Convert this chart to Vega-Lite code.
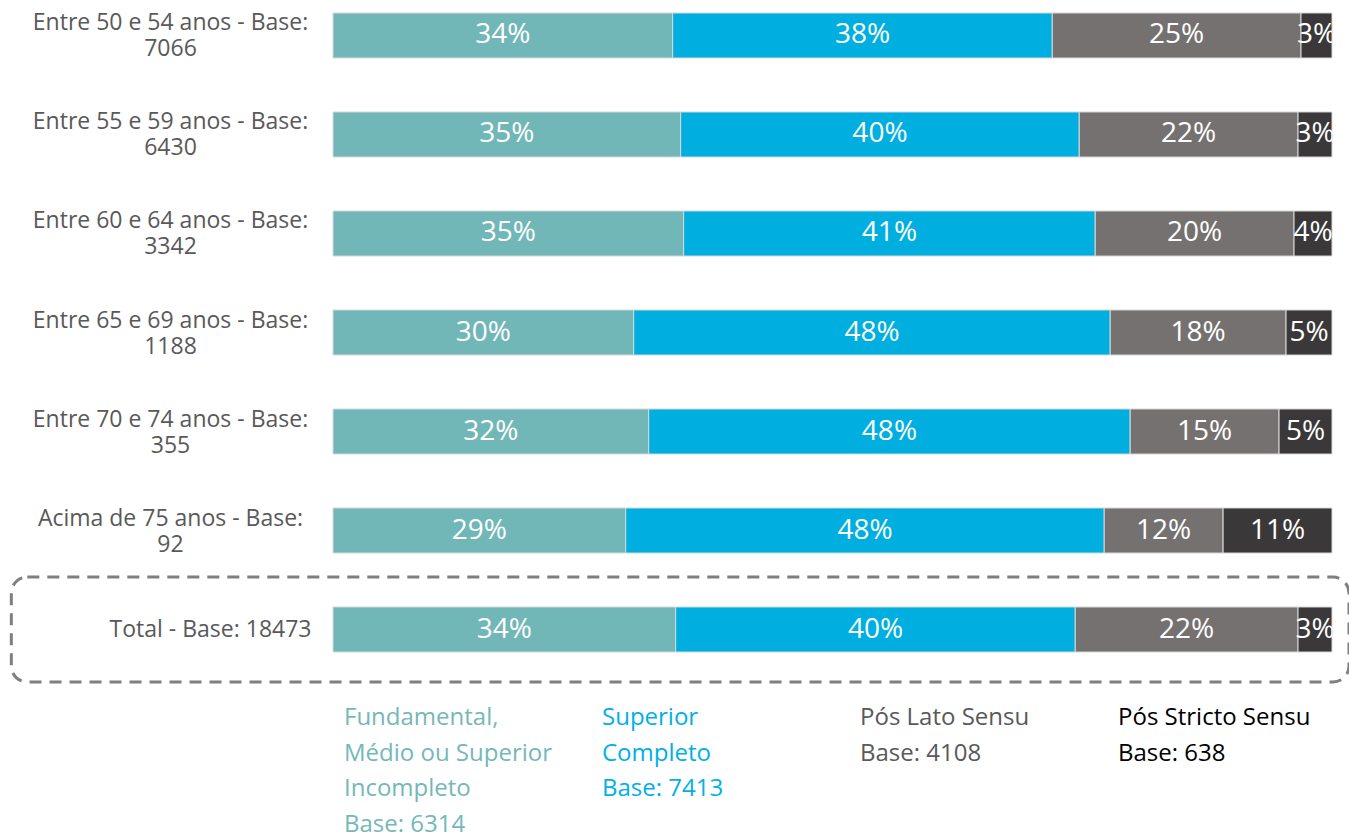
{
  "$schema": "https://vega.github.io/schema/vega-lite/v6.json",
  "autosize": "none",
  "width": 999,
  "height": 665,
  "padding": {"left": 333, "top": 0, "right": 17, "bottom": 168},
  "background": "white",
  "config": {
    "view": {"stroke": null},
    "style": {"guide-label": {"lineHeight": 35.5}}
  },
  "data": {"values": [
    {"grupo": "Entre 50 e 54 anos - Base:\n7066", "cat": "Fundamental, Médio ou Superior Incompleto", "ord": 1, "v": 34.0, "rotulo": "34%"},
    {"grupo": "Entre 50 e 54 anos - Base:\n7066", "cat": "Superior Completo", "ord": 2, "v": 38.0, "rotulo": "38%"},
    {"grupo": "Entre 50 e 54 anos - Base:\n7066", "cat": "Pós Lato Sensu", "ord": 3, "v": 24.9, "rotulo": "25%"},
    {"grupo": "Entre 50 e 54 anos - Base:\n7066", "cat": "Pós Stricto Sensu", "ord": 4, "v": 3.1, "rotulo": "3%"},
    {"grupo": "Entre 55 e 59 anos - Base:\n6430", "cat": "Fundamental, Médio ou Superior Incompleto", "ord": 1, "v": 34.8, "rotulo": "35%"},
    {"grupo": "Entre 55 e 59 anos - Base:\n6430", "cat": "Superior Completo", "ord": 2, "v": 39.9, "rotulo": "40%"},
    {"grupo": "Entre 55 e 59 anos - Base:\n6430", "cat": "Pós Lato Sensu", "ord": 3, "v": 21.9, "rotulo": "22%"},
    {"grupo": "Entre 55 e 59 anos - Base:\n6430", "cat": "Pós Stricto Sensu", "ord": 4, "v": 3.4, "rotulo": "3%"},
    {"grupo": "Entre 60 e 64 anos - Base:\n3342", "cat": "Fundamental, Médio ou Superior Incompleto", "ord": 1, "v": 35.1, "rotulo": "35%"},
    {"grupo": "Entre 60 e 64 anos - Base:\n3342", "cat": "Superior Completo", "ord": 2, "v": 41.2, "rotulo": "41%"},
    {"grupo": "Entre 60 e 64 anos - Base:\n3342", "cat": "Pós Lato Sensu", "ord": 3, "v": 19.9, "rotulo": "20%"},
    {"grupo": "Entre 60 e 64 anos - Base:\n3342", "cat": "Pós Stricto Sensu", "ord": 4, "v": 3.8, "rotulo": "4%"},
    {"grupo": "Entre 65 e 69 anos - Base:\n1188", "cat": "Fundamental, Médio ou Superior Incompleto", "ord": 1, "v": 30.1, "rotulo": "30%"},
    {"grupo": "Entre 65 e 69 anos - Base:\n1188", "cat": "Superior Completo", "ord": 2, "v": 47.7, "rotulo": "48%"},
    {"grupo": "Entre 65 e 69 anos - Base:\n1188", "cat": "Pós Lato Sensu", "ord": 3, "v": 17.6, "rotulo": "18%"},
    {"grupo": "Entre 65 e 69 anos - Base:\n1188", "cat": "Pós Stricto Sensu", "ord": 4, "v": 4.6, "rotulo": "5%"},
    {"grupo": "Entre 70 e 74 anos - Base:\n355", "cat": "Fundamental, Médio ou Superior Incompleto", "ord": 1, "v": 31.6, "rotulo": "32%"},
    {"grupo": "Entre 70 e 74 anos - Base:\n355", "cat": "Superior Completo", "ord": 2, "v": 48.2, "rotulo": "48%"},
    {"grupo": "Entre 70 e 74 anos - Base:\n355", "cat": "Pós Lato Sensu", "ord": 3, "v": 14.9, "rotulo": "15%"},
    {"grupo": "Entre 70 e 74 anos - Base:\n355", "cat": "Pós Stricto Sensu", "ord": 4, "v": 5.3, "rotulo": "5%"},
    {"grupo": "Acima de 75 anos - Base:\n92", "cat": "Fundamental, Médio ou Superior Incompleto", "ord": 1, "v": 29.3, "rotulo": "29%"},
    {"grupo": "Acima de 75 anos - Base:\n92", "cat": "Superior Completo", "ord": 2, "v": 47.9, "rotulo": "48%"},
    {"grupo": "Acima de 75 anos - Base:\n92", "cat": "Pós Lato Sensu", "ord": 3, "v": 11.9, "rotulo": "12%"},
    {"grupo": "Acima de 75 anos - Base:\n92", "cat": "Pós Stricto Sensu", "ord": 4, "v": 10.9, "rotulo": "11%"},
    {"grupo": "Total - Base: 18473", "cat": "Fundamental, Médio ou Superior Incompleto", "ord": 1, "v": 34.3, "rotulo": "34%"},
    {"grupo": "Total - Base: 18473", "cat": "Superior Completo", "ord": 2, "v": 40.0, "rotulo": "40%"},
    {"grupo": "Total - Base: 18473", "cat": "Pós Lato Sensu", "ord": 3, "v": 22.3, "rotulo": "22%"},
    {"grupo": "Total - Base: 18473", "cat": "Pós Stricto Sensu", "ord": 4, "v": 3.4, "rotulo": "3%"}
  ]},
  "transform": [
    {"stack": "v", "groupby": ["grupo"], "sort": [{"field": "ord"}], "as": ["x0", "x1"]},
    {"calculate": "(datum.x0 + datum.x1) / 2", "as": "xm"}
  ],
  "encoding": {
    "y": {
      "field": "grupo", "type": "nominal",
      "sort": ["Entre 50 e 54 anos - Base:\n7066", "Entre 55 e 59 anos - Base:\n6430", "Entre 60 e 64 anos - Base:\n3342", "Entre 65 e 69 anos - Base:\n1188", "Entre 70 e 74 anos - Base:\n355", "Acima de 75 anos - Base:\n92", "Total - Base: 18473"],
      "scale": {"paddingInner": 0.545, "paddingOuter": 0.131},
      "axis": {
        "title": null, "domain": false, "ticks": false,
        "labelExpr": "split(datum.label, '\\n')",
        "labelFont": "Open Sans", "labelFontSize": 23, "labelColor": "#595959",
        "labelLineHeight": 26, "labelLimit": 400,
        "labelAlign": {"condition": {"test": "indexof(datum.label, '\\n') < 0", "value": "right"}, "value": "center"},
        "labelPadding": {"condition": {"test": "indexof(datum.label, '\\n') < 0", "value": 22}, "value": 163},
        "labelOffset": {"condition": {"test": "indexof(datum.label, '\\n') < 0", "value": 0}, "value": -12}
      }
    }
  },
  "layer": [
    {
      "transform": [{"filter": "datum.grupo == 'Total - Base: 18473' && datum.ord == 1"}],
      "mark": {"type": "bar", "fill": null, "filled": false, "stroke": "#7f7f7f", "strokeWidth": 3, "strokeDash": [12, 8], "cornerRadius": 16, "height": {"band": 2.33}},
      "encoding": {
        "x": {"datum": -32.2, "type": "quantitative", "scale": {"domain": [0, 100], "nice": false, "zero": false}, "axis": null},
        "x2": {"datum": 101.7}
      }
    },
    {
      "mark": {"type": "bar", "stroke": "#d9d9d9", "strokeWidth": 1},
      "encoding": {
        "x": {"field": "x0", "type": "quantitative", "scale": {"domain": [0, 100], "nice": false}, "axis": null},
        "x2": {"field": "x1"},
        "color": {
          "field": "cat", "type": "nominal",
          "scale": {
            "domain": ["Fundamental, Médio ou Superior Incompleto", "Superior Completo", "Pós Lato Sensu", "Pós Stricto Sensu"],
            "range": ["#71b7b7", "#00afe0", "#767171", "#3a3838"]
          },
          "legend": {
            "title": null, "orient": "none", "legendX": -13, "legendY": 694,
            "direction": "horizontal", "columns": 4, "gridAlign": "all", "columnPadding": 25,
            "padding": 0, "symbolSize": 0, "symbolOpacity": 0, "symbolStrokeWidth": 0, "labelOffset": 0,
            "labelFont": "Open Sans", "labelFontSize": 24, "labelBaseline": "top", "labelLimit": 400,
            "labelColor": {"expr": "datum.value == 'Fundamental, Médio ou Superior Incompleto' ? '#74b8b8' : datum.value == 'Superior Completo' ? '#00b0e6' : datum.value == 'Pós Lato Sensu' ? '#595959' : '#000000'"},
            "labelExpr": "datum.label == 'Fundamental, Médio ou Superior Incompleto' ? ['Fundamental,', 'Médio ou Superior', 'Incompleto', 'Base: 6314'] : datum.label == 'Superior Completo' ? ['Superior', 'Completo', 'Base: 7413', ''] : datum.label == 'Pós Lato Sensu' ? ['Pós Lato Sensu', 'Base: 4108', '', ''] : ['Pós Stricto Sensu', 'Base: 638', '', '']"
          }
        }
      }
    },
    {
      "mark": {"type": "text", "color": "white", "font": "Open Sans", "fontSize": 28, "clip": true},
      "encoding": {
        "x": {"field": "xm", "type": "quantitative"},
        "text": {"field": "rotulo"}
      }
    }
  ]
}
